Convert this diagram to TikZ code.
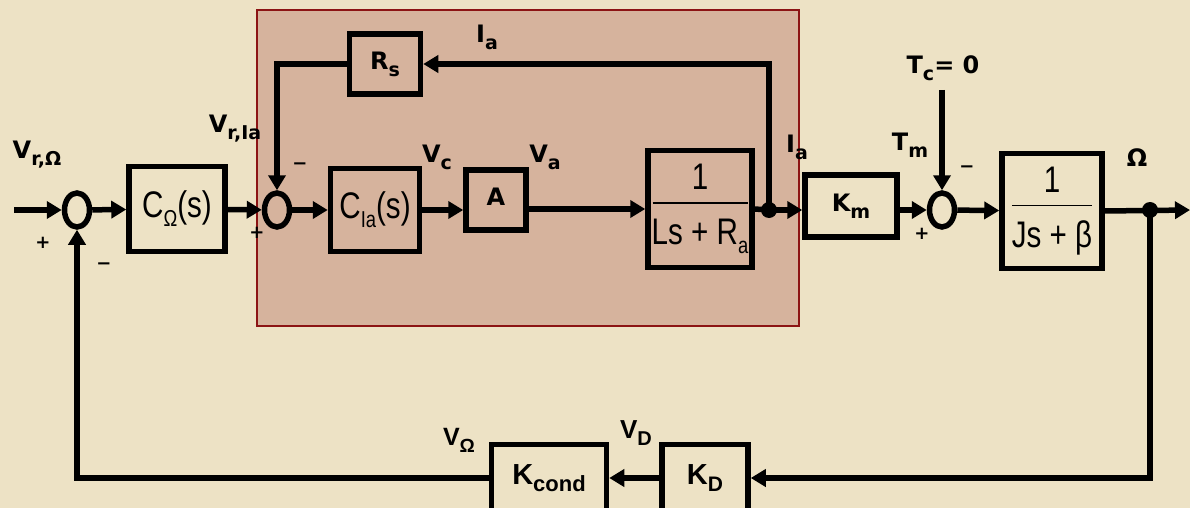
\documentclass[tikz,border=0pt]{standalone}
\usepackage{fontspec}
\setmainfont{DejaVu Sans}
\newfontfamily\tffont[FakeStretch=0.8]{Liberation Sans}
\newfontfamily\kfont{Liberation Sans}
\usepackage{tikz}
\usetikzlibrary{shapes,arrows.meta,calc}

\definecolor{bgcol}{RGB}{237,226,197}
\definecolor{shadecol}{RGB}{214,179,157}
\definecolor{framecol}{RGB}{140,20,20}

% bold signal label with lowered subscript
\newcommand{\lbl}[2]{{\fontsize{24}{28}\selectfont\bfseries #1\raisebox{-7pt}{\fontsize{19}{19}\selectfont #2}}}
% transfer function text
\newcommand{\tfsub}[1]{\raisebox{-9pt}{\fontsize{23}{23}\selectfont #1}}
% lower loop labels
\newcommand{\klbl}[4]{{\kfont\bfseries\fontsize{#3}{#3}\selectfont #1\raisebox{-7pt}{\fontsize{#4}{#4}\selectfont #2}}}

\begin{document}
\begin{tikzpicture}[x=1pt,y=-1pt]
\tikzset{blk/.style={draw, line width=5.5pt, inner sep=0pt},
         sumnode/.style={ellipse, draw, line width=5.5pt, minimum width=25pt, minimum height=34pt, inner sep=0pt},
         wire/.style={line width=5.5pt},
         sig/.style={wire, -{Triangle[length=15pt,width=17pt]}},
         dotnode/.style={circle, fill, inner sep=0pt, minimum size=16pt},
         tf/.style={font=\tffont\fontsize{37}{44}\selectfont},
         pm/.style={font=\fontsize{18}{18}\selectfont\bfseries}}
\tikzstyle{every node}=[font=\fontsize{24}{28}\selectfont\bfseries]

\path[use as bounding box, fill=bgcol] (0,0) rectangle (1190,508);
\clip (0,0) rectangle (1190,508);
\fill[shadecol] (257,10) rectangle (799,326);
\draw[framecol, line width=2pt] (257,10) rectangle (799,326);

% main row
\coordinate (in) at (14,210);
\node[sumnode] (sum1) at (77,210) {};
\node[blk, tf, minimum width=96pt, minimum height=85pt] (cw) at (177,209) {C\tfsub{Ω}(s)};
\node[sumnode] (sum2) at (277,210) {};
\node[blk, tf, minimum width=89pt, minimum height=83pt] (cia) at (375,210) {C\tfsub{Ia}(s)};
\node[blk, minimum width=60pt, minimum height=60pt] (ablk) at (496,200) {\raisebox{6pt}{A}};
\node[blk, tf, minimum width=104pt, minimum height=117pt, align=center] (elec) at (700,209)
  {1\\[-30pt]\rule{95pt}{1.2pt}\\[-3pt]Ls + R\tfsub{a}};
\node[dotnode] (jn) at (769,210) {};
\node[blk, minimum width=92pt, minimum height=62pt] (km) at (851,206) {\lbl{K}{m}};
\node[sumnode] (sum3) at (942,210) {};
\coordinate (tc) at (942,90);
\node[blk, tf, minimum width=100pt, minimum height=115pt, align=center] (mech) at (1052,211)
  {1\\[-30pt]\rule{80pt}{1.2pt}\\[-3pt]Js + β};
\node[dotnode] (out) at (1150,210) {};
\coordinate (end) at (1190,210);

% inner and outer feedback
\node[blk, minimum width=71pt, minimum height=60pt] (rs) at (385,64) {\lbl{R}{s}};
\node[blk, minimum width=86pt, minimum height=67pt] (kd) at (705,478) {\klbl{K}{D}{29}{21}};
\node[blk, minimum width=115pt, minimum height=67pt] (kcond) at (549,478) {\raisebox{4pt}{\klbl{K}{cond}{29}{22}}};

% labels
\node (lvr) at (37,155) {\lbl{V}{r,Ω}};
\node[pm] (p1) at (43,243) {+};
\node[pm] (m1) at (104,266) {−};
\node (lvri) at (235,129) {\lbl{V}{r,Ia}};
\node[pm] (p2) at (257,233) {+};
\node[pm] (m2) at (300,166) {−};
\node (lia1) at (487,37) {\lbl{I}{a}};
\node (lvc) at (437,157) {\lbl{V}{c}};
\node (lva) at (545,157) {\lbl{V}{a}};
\node (lia2) at (797,147) {\lbl{I}{a}};
\node (ltc) at (943,68) {\lbl{T}{c}= 0};
\node (ltm) at (910,145) {\lbl{T}{m}};
\node[pm] (m3) at (967,169) {−};
\node[pm] (p3) at (922,234) {+};
\node (lom) at (1137,158) {Ω};
\node (lvd) at (636,433) {\klbl{V}{D}{26}{20}};
\node (lvo) at (459,440) {\klbl{V}{Ω}{25}{19}};

% connectors
\draw[sig] (in) -- (sum1.west);
\draw[sig] (sum1) -- (cw);
\draw[sig] (cw) -- (sum2);
\draw[sig] (sum2) -- (cia);
\draw[sig] (cia.east) -- (cia.east -| ablk.west);
\draw[sig] (ablk.east |- elec.west) -- (elec.west);
\draw[wire] (elec.east) -- (jn.center);
\draw[sig] (jn.center) -- (jn.center -| km.west);
\draw[sig] (jn.center) |- (rs.east);
\draw[sig] (rs.west) -| (sum2.north);
\draw[sig] (km.east |- sum3.west) -- (sum3.west);
\draw[sig] (tc) -- (sum3.north);
\draw[sig] (sum3) -- (mech);
\draw[sig] (mech.east) -- (end);
\draw[sig] (out.center) |- (kd.east);
\draw[sig] (kd) -- (kcond);
\draw[sig] (kcond.west) -| (sum1.south);
\end{tikzpicture}
\end{document}
